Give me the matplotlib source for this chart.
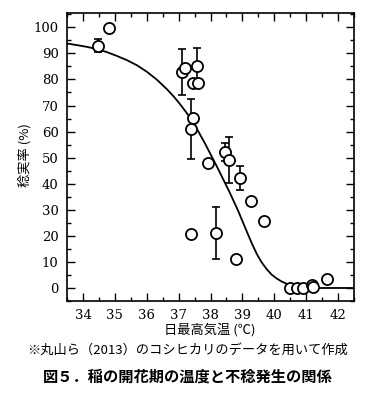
import matplotlib; matplotlib.use("Agg")
import matplotlib.pyplot as plt
from matplotlib.ticker import MultipleLocator

JP_FONT  = ["Noto Sans CJK JP", "DejaVu Sans"]
NUM_FONT = "DejaVu Serif"

# observed points (daily max temperature, seed-set rate)
temp_pts = [34.47, 34.82, 37.10, 37.20, 37.57, 37.45, 37.60, 37.45, 37.39,
            37.92, 38.45, 38.58, 38.92, 39.27, 39.67, 37.39, 38.17, 38.80,
            40.49, 40.71, 40.90, 41.18, 41.21, 41.65]
rate_pts = [93.0, 99.6, 82.8, 84.3, 85.0, 78.5, 78.5, 65.1, 61.0,
            47.9, 52.1, 49.0, 42.3, 33.3, 25.7, 20.7, 21.0, 11.1,
            0.0, 0.0, 0.0, 1.1, 0.4, 3.4]
# error bars (half width), 0 = no bar
rate_err = [2.5, 0, 8.8, 0, 7.0, 0, 0, 0, 11.5,
            0, 3.5, 8.8, 4.6, 0, 0, 0, 10.0, 0,
            0, 0, 0, 0, 0, 0]

# fitted curve
curve_x = [33.50, 33.80, 34.13, 34.45, 34.75, 35.05, 35.38, 35.70, 36.01,
           36.32, 36.63, 36.85, 37.04, 37.25, 37.45, 37.82, 38.20, 38.58,
           38.86, 39.14, 39.30, 39.45, 39.60, 39.77, 39.92, 40.08, 40.23,
           40.39, 40.55, 40.71, 40.85, 41.02, 42.50]
curve_y = [93.8, 93.2, 92.5, 91.6, 90.5, 89.1, 87.4, 85.4, 82.9,
           79.9, 76.3, 73.4, 70.6, 67.2, 63.8, 55.6, 46.6, 37.2,
           29.8, 21.6, 17.0, 13.1, 9.9, 7.1, 5.1, 3.6, 2.5,
           1.6, 0.9, 0.35, 0.1, 0.0, 0.0]

XTICKS = list(range(34, 43))
YTICKS = list(range(0, 101, 10))

fig = plt.figure(figsize=(3.75, 3.94), dpi=100)
ax = fig.add_axes([0.1787, 0.236, 0.7653, 0.731])

ax.plot(curve_x, curve_y, color="black", lw=1.3, zorder=2)

for x, y, e in zip(temp_pts, rate_pts, rate_err):
    if e > 0:
        ax.errorbar(x, y, yerr=e, fmt="none", ecolor="black", elinewidth=1.2,
                    capsize=3, capthick=1.2, zorder=3)
ax.plot(temp_pts, rate_pts, "o", ms=8, mfc="white", mec="black", mew=1.3,
        ls="none", zorder=4)

ax.set_xlim(33.5, 42.5)
ax.set_ylim(-5, 105.5)
ax.set_xticks(XTICKS)
ax.set_yticks(YTICKS)
ax.xaxis.set_minor_locator(MultipleLocator(0.5))
ax.yaxis.set_minor_locator(MultipleLocator(5))
ax.tick_params(which="both", direction="in", top=True, right=True,
               labeltop=False, labelright=False, width=1.0)
ax.tick_params(which="major", length=6, labelsize=9.5, pad=6)
ax.tick_params(which="minor", length=3)
for lab in ax.get_xticklabels() + ax.get_yticklabels():
    lab.set_family(NUM_FONT)
for sp in ax.spines.values():
    sp.set_linewidth(1.2)

fig.text(0.56, 0.163, "日最高気温 (℃)", family=JP_FONT, fontsize=9.5,
         ha="center", va="center")
fig.text(0.067, 0.607, "稔実率 (%)", family=JP_FONT, fontsize=9.5,
         rotation=90, ha="center", va="center")
fig.text(0.5, 0.112, "※丸山ら（2013）のコシヒカリのデータを用いて作成",
         family=JP_FONT, fontsize=9.5, ha="center", va="center")
fig.text(0.5, 0.043, "図５．稲の開花期の温度と不稔発生の関係",
         family=JP_FONT, fontsize=11, fontweight="bold",
         ha="center", va="center")

plt.savefig("out.png", dpi=100)
plt.close()
